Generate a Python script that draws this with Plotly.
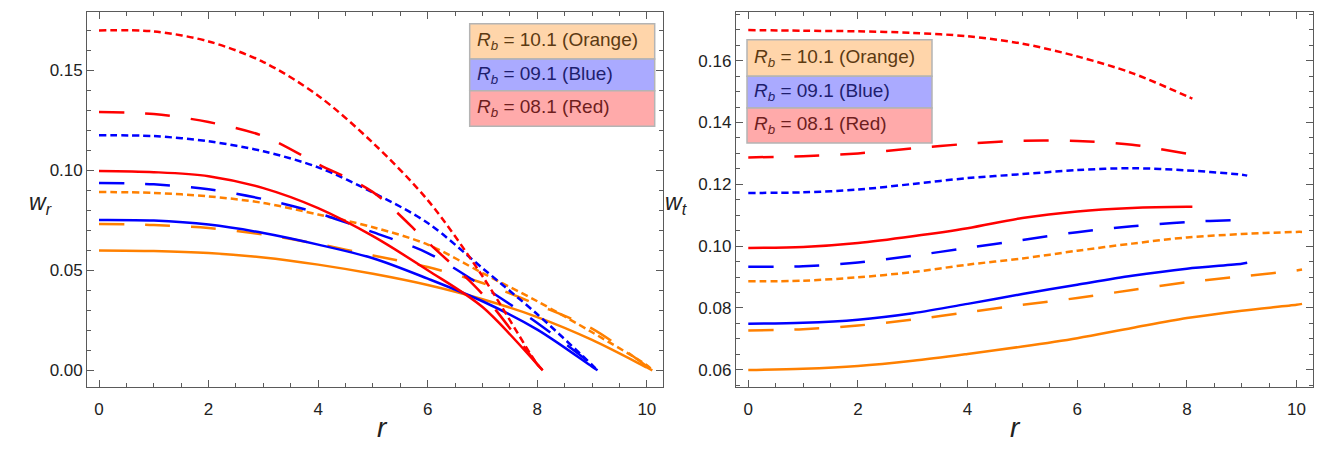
import plotly.graph_objects as go

# ---------------- data ----------------
r_red = [0, 1, 2, 3, 4, 5, 6, 7, 8, 8.1]
r_blue = [0, 1, 2, 3, 4, 5, 6, 7, 8, 9, 9.1]
r_orange = [0, 1, 2, 3, 4, 5, 6, 7, 8, 9, 10, 10.1]

# left panel: w_r
wr_red_dotted = [0.1698, 0.1693, 0.1643, 0.154, 0.1372, 0.1136, 0.085, 0.047, 0.003, 0.0]
wr_red_dashed = [0.129, 0.128, 0.124, 0.117, 0.103, 0.089, 0.064, 0.038, 0.003, 0.0]
wr_red_solid = [0.0996, 0.099, 0.097, 0.091, 0.081, 0.067, 0.050, 0.0316, 0.003, 0.0]
wr_blue_dotted = [0.1174, 0.117, 0.1144, 0.1094, 0.1014, 0.0888, 0.0736, 0.051, 0.028, 0.0027, 0.0]
wr_blue_dashed = [0.0936, 0.0929, 0.0905, 0.0855, 0.0785, 0.069, 0.0586, 0.042, 0.0236, 0.0028, 0.0]
wr_blue_solid = [0.0751, 0.0748, 0.0728, 0.0686, 0.0628, 0.056, 0.0458, 0.0345, 0.0203, 0.0018, 0.0]
wr_orange_dotted = [0.0891, 0.0886, 0.0869, 0.0836, 0.0778, 0.0715, 0.0628, 0.0486, 0.0345, 0.019, 0.0025, 0.0]
wr_orange_dashed = [0.0731, 0.0726, 0.0711, 0.0678, 0.0631, 0.0574, 0.0516, 0.0436, 0.0328, 0.0208, 0.002, 0.0]
wr_orange_solid = [0.0599, 0.0596, 0.0586, 0.0564, 0.0528, 0.0482, 0.0426, 0.0355, 0.0266, 0.0152, 0.0014, 0.0]

# right panel: w_t
wt_red_dotted = [0.1699, 0.1697, 0.1695, 0.169, 0.1679, 0.1655, 0.1614, 0.156, 0.1485, 0.1477]
wt_red_dashed = [0.1287, 0.1291, 0.130, 0.1316, 0.1331, 0.1341, 0.134, 0.1328, 0.1299, 0.1296]
wt_red_solid = [0.0994, 0.0997, 0.101, 0.1032, 0.1058, 0.1091, 0.1112, 0.1123, 0.1127, 0.1127]
wt_blue_dotted = [0.1172, 0.1174, 0.1183, 0.1201, 0.122, 0.1233, 0.1246, 0.1252, 0.1245, 0.1231, 0.1228]
wt_blue_dashed = [0.0933, 0.0935, 0.0947, 0.0969, 0.0994, 0.102, 0.1045, 0.1064, 0.1078, 0.1085, 0.1085]
wt_blue_solid = [0.0749, 0.0752, 0.0762, 0.0783, 0.0813, 0.0845, 0.0875, 0.0904, 0.0927, 0.0943, 0.0946]
wt_orange_dotted = [0.0886, 0.0888, 0.0899, 0.0916, 0.094, 0.096, 0.0985, 0.1008, 0.1028, 0.1039, 0.1046, 0.1046]
wt_orange_dashed = [0.0727, 0.0731, 0.0743, 0.0762, 0.0786, 0.081, 0.0832, 0.0858, 0.0883, 0.0902, 0.0921, 0.0924]
wt_orange_solid = [0.0599, 0.0603, 0.0612, 0.0629, 0.0651, 0.0675, 0.0702, 0.0735, 0.0767, 0.0791, 0.081, 0.0813]

legend_labels = ["10.1 (Orange)", "09.1 (Blue)", "08.1 (Red)"]
x_ticks = [0, 2, 4, 6, 8, 10]

# ---------------- styling ----------------
RED, BLUE, ORANGE = "#FF0000", "#0000FF", "#FF8000"
DOT = "7px,4px"
LONG = "25px,21px"
LW = 2.5
W, H = 1329, 456
PT, PB = 4, 379  # plot area top/bottom in pixels


def px(x):
    return x / W


def py(y):
    return (PB - y) / (PB - PT)


fig = go.Figure()

series = [
    (r_orange, wr_orange_solid, wt_orange_solid, ORANGE, "solid"),
    (r_orange, wr_orange_dashed, wt_orange_dashed, ORANGE, LONG),
    (r_orange, wr_orange_dotted, wt_orange_dotted, ORANGE, DOT),
    (r_blue, wr_blue_solid, wt_blue_solid, BLUE, "solid"),
    (r_blue, wr_blue_dashed, wt_blue_dashed, BLUE, LONG),
    (r_blue, wr_blue_dotted, wt_blue_dotted, BLUE, DOT),
    (r_red, wr_red_solid, wt_red_solid, RED, "solid"),
    (r_red, wr_red_dashed, wt_red_dashed, RED, LONG),
    (r_red, wr_red_dotted, wt_red_dotted, RED, DOT),
]
for r, wr, wt, col, dash in series:
    fig.add_trace(go.Scatter(x=r, y=wr, mode="lines", xaxis="x", yaxis="y",
                             line=dict(color=col, width=LW, dash=dash, shape="spline", smoothing=0.9),
                             showlegend=False, hoverinfo="skip"))
    fig.add_trace(go.Scatter(x=r, y=wt, mode="lines", xaxis="x2", yaxis="y2",
                             line=dict(color=col, width=LW, dash=dash, shape="spline", smoothing=0.9),
                             showlegend=False, hoverinfo="skip"))

FRAME = "#5a5a5a"
common = dict(showline=True, linecolor=FRAME, linewidth=1.3, mirror="ticks",
              ticks="inside", ticklen=7, tickcolor=FRAME, tickwidth=1.2,
              showgrid=False, zeroline=False, automargin=False,
              tickfont=dict(family="Liberation Sans", size=17, color="#222"))

fig.update_layout(
    width=W, height=H,
    margin=dict(l=0, r=0, t=PT, b=H - PB, pad=0, autoexpand=False),
    paper_bgcolor="white", plot_bgcolor="white",
    xaxis=dict(domain=[px(79.3), px(655.3)], anchor="y", range=[-0.214, 10.30],
               tickvals=x_ticks, ticklabelstandoff=6,
               minor=dict(ticks="inside", ticklen=4, tickcolor=FRAME, dtick=0.5, tick0=0, showgrid=False),
               **common),
    yaxis=dict(domain=[0, 1], anchor="x", range=[-0.00834, 0.179], dtick=0.05, tick0=0,
               tickformat=".2f",
               minor=dict(ticks="inside", ticklen=4, tickcolor=FRAME, dtick=0.01, tick0=0, showgrid=False),
               **common),
    xaxis2=dict(domain=[px(728), px(1305)], anchor="y2", range=[-0.224, 10.30],
                tickvals=x_ticks, ticklabelstandoff=6,
                minor=dict(ticks="inside", ticklen=4, tickcolor=FRAME, dtick=0.5, tick0=0, showgrid=False),
                **common),
    yaxis2=dict(domain=[0, 1], anchor="x2", range=[0.0544, 0.17576], dtick=0.02, tick0=0,
                tickformat=".2f",
                minor=dict(ticks="inside", ticklen=4, tickcolor=FRAME, dtick=0.005, tick0=0, showgrid=False),
                **common),
)

annotations = []
shapes = []
# axis titles
annotations.append(dict(x=px(19), y=py(195), xref="paper", yref="paper", showarrow=False,
                        text="<i>w</i><sub><i>r</i></sub>",
                        font=dict(family="Liberation Sans", size=23, color="#222")))
annotations.append(dict(x=px(669), y=py(195), xref="paper", yref="paper", showarrow=False,
                        text="<i>w</i><sub><i>t</i></sub>",
                        font=dict(family="Liberation Sans", size=23, color="#222")))
annotations.append(dict(x=px(367), y=py(437), xref="paper", yref="paper", showarrow=False,
                        text="<i>r</i>", font=dict(family="Liberation Sans", size=28, color="#222")))
annotations.append(dict(x=px(1015), y=py(437), xref="paper", yref="paper", showarrow=False,
                        text="<i>r</i>", font=dict(family="Liberation Sans", size=28, color="#222")))

# legends
fills = ["#FFD5AA", "#AAAAFF", "#FFAAAA"]
txtcols = ["#5C3A12", "#1E1E6E", "#6E1E1E"]


def add_legend(x0, x1, rows):
    for i, (lab, fc, tc) in enumerate(zip(legend_labels, fills, txtcols)):
        y0, y1 = rows[i], rows[i + 1]
        shapes.append(dict(type="rect", xref="paper", yref="paper",
                           x0=px(x0), x1=px(x1), y0=py(y1), y1=py(y0),
                           fillcolor=fc, line=dict(color="#B4B4B4", width=1.5), layer="above"))
        annotations.append(dict(x=px(x0 + 5), y=py((y0 + y1) / 2), xref="paper", yref="paper",
                                xanchor="left", yanchor="middle", showarrow=False,
                                text="<i>R</i><sub><i>b</i></sub> = " + lab,
                                font=dict(family="Liberation Sans", size=19, color=tc)))


add_legend(461.7, 646.7, [15.7, 51, 82.7, 118.3])
add_legend(739, 924, [31.7, 68.3, 100, 135])

fig.update_layout(annotations=annotations, shapes=shapes)
fig.write_html("out.html")
